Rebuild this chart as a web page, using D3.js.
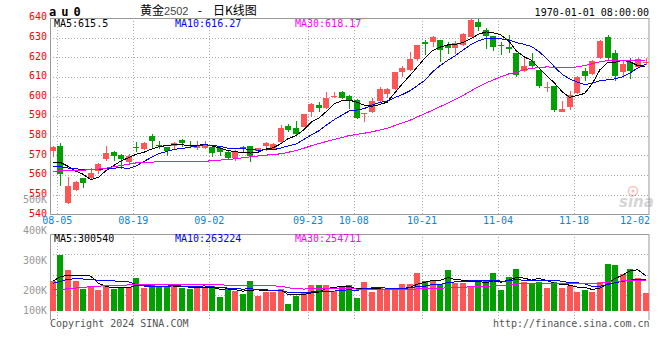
<!DOCTYPE html>
<html>
<head>
<meta charset="utf-8">
<title>黄金2502 - 日K线图</title>
<script src="https://cdn.jsdelivr.net/npm/d3@7"></script>
<style>
  body { margin: 0; background: #fff; }
  svg { display: block; }
  text { font-family: "DejaVu Sans Mono", monospace; font-size: 10px; }
</style>
</head>
<body>
<div id="chart"></div>
<script>
// trading days; the last one only carries the axis label
const dates = ['08-02',
  '08-05','08-06','08-07','08-08','08-09','08-12','08-13','08-14','08-15','08-16',
  '08-19','08-20','08-21','08-22','08-23','08-26','08-27','08-28','08-29','08-30',
  '09-02','09-03','09-04','09-05','09-06','09-09','09-10','09-11','09-12','09-13',
  '09-18','09-19','09-20','09-23','09-24','09-25','09-26','09-27','09-30',
  '10-08','10-09','10-10','10-11','10-14','10-15','10-16','10-17','10-18',
  '10-21','10-22','10-23','10-24','10-25','10-28','10-29','10-30','10-31','11-01',
  '11-04','11-05','11-06','11-07','11-08','11-11','11-12','11-13','11-14','11-15',
  '11-18','11-19','11-20','11-21','11-22','11-25','11-26','11-27','11-28','11-29',
  '12-02'];

const open = [572.2,574.8,545.6,552.4,558.3,558.3,562.2,568.0,571.7,570.4,
  566.6,574.2,573.1,579.9,575.2,574.1,574.8,577.9,575.4,573.6,
  573.6,574.5,573.6,571.9,568.9,574.1,574.8,572.0,574.8,573.4,
  576.8,585.0,583.8,584.6,592.3,595.7,594.0,600.1,602.1,600.3,
  598.2,591.1,592.3,597.7,601.1,603.8,612.7,613.5,619.1,627.9,
  627.6,628.8,626.2,624.7,626.0,630.5,638.1,633.9,630.8,626.0,
  625.4,622.0,613.0,618.1,613.5,604.5,605.4,592.3,594.8,602.0,
  613.0,611.5,619.8,630.2,622.3,612.7,617.8,614.9,617.4];
const high = [574.8,576.2,559.2,557.1,558.6,563.4,566.0,574.8,572.0,570.9,
  570.9,577.0,576.8,580.7,577.2,574.5,577.0,578.4,577.2,577.2,
  577.3,575.0,575.0,572.8,572.8,574.8,574.8,573.9,577.0,576.2,
  585.5,586.0,587.5,591.1,596.9,597.0,602.1,602.1,602.8,600.8,
  598.6,591.6,599.4,605.0,604.1,612.7,615.5,622.8,626.5,628.8,
  630.8,629.0,627.9,628.4,632.5,639.5,639.7,634.8,630.9,627.9,
  631.3,622.4,620.3,622.0,613.6,607.6,605.5,597.7,602.8,610.6,
  614.4,618.4,629.0,631.3,623.7,618.6,619.5,619.5,619.8];
const low = [569.0,554.6,545.2,552.0,553.2,557.8,560.4,567.2,567.0,563.2,
  565.8,571.7,572.6,573.4,573.4,569.7,572.8,574.1,573.6,572.8,
  573.2,569.4,569.9,568.2,567.2,571.6,566.8,571.5,572.2,573.0,
  576.2,582.1,579.8,584.4,589.7,592.3,593.6,599.1,598.7,593.5,
  588.4,587.2,591.8,597.4,599.4,603.3,610.1,613.0,618.1,621.2,
  625.4,617.8,621.5,621.7,625.5,630.2,633.4,624.1,623.4,621.2,
  622.0,610.1,612.7,614.0,604.5,602.5,592.3,592.0,593.1,601.5,
  608.1,611.0,619.3,618.6,608.1,609.3,608.9,614.5,616.1];
const close = [574.5,560.4,554.4,556.6,556.1,561.2,565.5,571.4,569.7,568.3,
  569.7,574.0,576.5,577.3,574.9,572.2,576.5,576.2,575.2,575.2,
  575.6,571.1,571.9,568.5,572.2,573.8,569.7,573.7,576.4,576.0,
  583.8,582.9,580.8,591.1,596.0,594.3,599.1,600.4,599.4,597.7,
  588.9,591.4,597.7,603.8,603.8,612.3,614.7,619.1,626.2,626.6,
  630.2,623.7,624.9,627.3,631.9,639.0,635.6,630.8,625.4,625.5,
  624.0,611.0,615.7,615.7,605.5,605.0,593.1,593.5,600.8,610.1,
  610.5,618.1,628.5,619.5,610.5,616.4,613.2,618.9,617.8];
const volume = [256000,473000,346000,256000,186000,211000,177000,214000,183000,205000,
  200000,279000,197000,220000,203000,205000,220000,197000,182000,203000,
  205000,211000,121000,192000,169000,146000,254000,129000,158000,158000,
  186000,62000,127000,163000,220000,220000,220000,169000,211000,220000,
  112000,248000,163000,192000,175000,175000,231000,226000,324000,256000,
  256000,231000,346000,234000,234000,205000,248000,262000,324000,177000,
  287000,355000,248000,239000,248000,192000,248000,192000,214000,163000,
  177000,163000,248000,397000,389000,315000,355000,281000,155000];

const ma5 = [566.6,566.4,564.5,562.0,560.4,557.7,558.8,562.2,564.8,567.2,
  568.9,570.6,571.6,573.2,574.5,575.0,575.5,575.4,575.0,575.1,
  575.7,574.7,573.8,572.5,571.9,571.5,571.2,571.6,573.2,573.9,
  575.9,578.6,580.0,582.9,586.9,589.0,592.3,596.2,597.8,598.2,
  597.1,595.6,595.0,595.9,597.1,601.8,606.5,610.7,615.2,619.8,
  623.4,625.2,626.3,626.5,627.6,629.4,631.7,632.9,632.5,631.3,
  628.3,623.3,620.3,618.4,614.4,610.6,607.0,602.6,599.6,600.5,
  601.6,606.6,613.6,617.3,617.4,618.6,617.6,615.7,615.4];
const ma10 = [564.6,564.2,563.6,563.2,562.8,562.7,562.9,563.2,563.5,563.8,
  563.3,564.7,566.9,569.0,570.9,572.0,573.1,573.5,574.1,574.8,
  575.4,575.1,574.6,573.7,573.5,573.6,572.9,572.7,572.8,572.9,
  573.7,574.9,575.8,578.0,580.4,582.5,585.4,588.1,590.4,592.6,
  593.1,593.9,595.6,596.9,597.7,599.4,601.0,602.9,605.6,608.4,
  612.6,615.8,618.5,620.9,623.7,626.4,628.4,629.6,629.5,629.4,
  628.8,627.5,626.6,625.5,622.8,619.4,615.2,611.4,609.0,607.4,
  606.1,606.8,608.1,608.5,609.0,610.1,612.1,614.6,616.4];
const ma30 = [562.0,562.1,562.2,562.3,562.5,562.7,563.0,563.5,564.2,564.9,
  565.5,566.2,566.5,566.6,566.7,566.7,566.7,566.8,566.8,566.9,
  567.0,567.3,567.6,567.9,568.3,568.8,569.3,569.7,570.1,570.5,
  570.8,571.6,572.4,573.6,574.9,576.0,577.1,578.1,579.1,580.1,
  580.7,581.3,582.0,582.9,583.8,585.2,586.5,587.9,589.6,591.3,
  593.1,594.9,596.6,598.6,600.6,602.8,605.0,606.9,608.5,610.1,
  611.5,612.4,613.6,614.4,614.7,615.1,614.9,614.6,614.7,615.1,
  615.8,616.7,617.7,618.3,618.5,618.6,618.6,618.6,618.3];

// volume averages, in thousands
const volMa5 = [250,290,300,302,303.4,294.4,235.2,208.8,194.2,198.0,
  195.8,216.2,212.8,220.2,219.8,220.8,209.0,209.0,201.4,201.4,
  201.4,199.6,184.4,186.4,179.6,167.8,176.4,178.0,171.2,169.0,
  177.0,138.6,138.2,139.2,151.6,158.4,190.0,198.4,208.0,208.0,
  186.4,192.0,190.8,187.0,178.0,190.6,187.2,199.8,226.2,242.4,
  258.6,258.6,282.6,264.6,260.2,250.0,253.4,236.6,254.6,243.2,
  259.6,281.0,278.2,261.2,275.4,256.4,235.0,223.8,218.8,201.8,
  198.8,181.8,193.0,229.6,274.8,302.4,340.8,347.4,299.0];
const volMa10 = [234,250,268,272,270,265,260,257,254,250.7,
  245.1,225.7,210.8,207.2,208.9,208.3,212.6,210.9,210.8,210.6,
  211.1,204.3,196.7,193.9,190.5,184.6,188.0,181.2,178.8,174.3,
  172.4,157.5,158.1,155.2,160.3,167.7,164.3,168.3,173.6,179.8,
  172.4,191.0,194.6,197.5,193.0,188.5,189.6,195.3,206.6,210.2,
  224.6,222.9,241.2,245.4,251.3,254.3,256.0,259.6,259.6,251.7,
  254.8,267.2,257.4,257.9,259.3,258.0,258.0,251.0,240.0,238.6,
  227.6,208.4,208.4,224.2,238.3,250.6,261.3,270.2,264.3];
const volMa30 = [177,182,188,194,200,205,210,213,216,218,
  220,221,221,221,221,221,222,223,224,225,
  225,224,221,218,216,214,213,212,212,211.9,
  209.5,195.8,188.5,185.4,186.6,186.9,188.3,186.8,187.7,188.2,
  185.3,184.3,183.1,182.2,181.3,180.3,180.6,181.6,186.3,188.1,
  189.8,190.5,198.0,199.4,201.5,203.5,203.3,207.7,213.3,213.9,
  217.3,227.0,231.1,233.6,234.5,233.6,234.5,235.3,235.4,233.5,
  235.7,232.8,235.7,242.5,249.6,254.3,258.4,260.3,254.6];

const priceTicks = [640, 630, 620, 610, 600, 590, 580, 570, 560, 550, 540];
const volTicks = [500000, 400000, 300000, 200000, 100000];
const volTickLabels = ['500K', '400K', '300K', '200K', '100K'];
const dateTicks = ['08-05', '08-19', '09-02', '09-23', '10-08', '10-21', '11-04', '11-18', '12-02'];
const maLegend = ['MA5:615.5', 'MA10:616.27', 'MA30:618.17'];
const volLegend = ['MA5:300540', 'MA10:263224', 'MA30:254711'];
const maColors = ['#000000', '#0000ff', '#ff00ff'];

const UP = '#ff5555', DOWN = '#00a000';
const GRID = '#aaaaaa', FRAME = '#999999';
const L = 50, R = 649.5;
const mainTop = 18, mainBottom = 214.3;
const volTop = 234, volBase = 311, volBottom = 320;

const svg = d3.select('#chart').append('svg')
  .attr('width', 660)
  .attr('height', 360);

const x = d3.scaleBand()
  .domain(dates)
  .range([49.7, 49.7 + 7.6 * (dates.length - 0.21)])
  .paddingInner(0.21)
  .paddingOuter(0);
const bw = x.bandwidth();
const y = d3.scaleLinear().domain([540, 640]).range([mainBottom, mainTop]);
const vy = d3.scaleLinear().domain([0, 650000]).range([volBase, volTop]);
// the K labels on the left are not spaced evenly in the original
const volLabelY = d3.scaleLinear().domain([100000, 200000, 500000]).range([314.3, 294, 203.3]);

const bars = close.map((c, i) => ({
  d: dates[i], o: open[i], h: high[i], l: low[i], c: c, v: volume[i]
}));
const col = b => b.c >= b.o ? UP : DOWN;

svg.append('clipPath').attr('id', 'clipMain')
  .append('rect').attr('x', L).attr('y', mainTop).attr('width', R - L).attr('height', mainBottom - mainTop);
svg.append('clipPath').attr('id', 'clipVol')
  .append('rect').attr('x', L).attr('y', volTop).attr('width', R - L).attr('height', volBottom - volTop);

// grid
const tickIn = dateTicks.filter(t => x(t) !== undefined && x(t) < R - 1);
svg.append('g').selectAll('line')
  .data(priceTicks.slice(1, -1))
  .enter().append('line')
  .attr('x1', L).attr('x2', R)
  .attr('y1', d => Math.round(y(d)) + 0.5).attr('y2', d => Math.round(y(d)) + 0.5)
  .attr('stroke', GRID).attr('stroke-dasharray', '1,2');
svg.append('g').selectAll('line')
  .data(tickIn)
  .enter().append('line')
  .attr('x1', d => Math.round(x(d)) + 0.5).attr('x2', d => Math.round(x(d)) + 0.5)
  .attr('y1', mainTop).attr('y2', mainBottom)
  .attr('stroke', GRID).attr('stroke-dasharray', '1,2');
svg.append('g').selectAll('line')
  .data(tickIn)
  .enter().append('line')
  .attr('x1', d => Math.round(x(d)) + 0.5).attr('x2', d => Math.round(x(d)) + 0.5)
  .attr('y1', volTop).attr('y2', volBottom)
  .attr('stroke', GRID).attr('stroke-dasharray', '1,2');
svg.append('g').selectAll('line')
  .data(d3.range(1, 4))
  .enter().append('line')
  .attr('x1', L).attr('x2', R)
  .attr('y1', k => Math.round(volTop + k * (volBottom - 5 - volTop) / 4) + 0.5)
  .attr('y2', k => Math.round(volTop + k * (volBottom - 5 - volTop) / 4) + 0.5)
  .attr('stroke', GRID).attr('stroke-dasharray', '1,2');

// frames
svg.append('rect')
  .attr('x', L + 0.5).attr('y', mainTop + 0.5)
  .attr('width', R - L - 1).attr('height', Math.round(mainBottom - mainTop))
  .attr('fill', 'none').attr('stroke', FRAME);
svg.append('path')
  .attr('d', `M${L + 0.5},${volBottom}V${volTop + 0.5}H${R - 0.5}V${volBottom}`)
  .attr('fill', 'none').attr('stroke', FRAME);

// candles
const gMain = svg.append('g').attr('clip-path', 'url(#clipMain)');
const cg = gMain.selectAll('g.k').data(bars).enter().append('g').attr('class', 'k');
cg.append('rect')
  .attr('x', b => Math.round(x(b.d)) + 3)
  .attr('width', 1)
  .attr('y', b => Math.round(y(b.h)))
  .attr('height', b => Math.max(1, Math.round(y(b.l)) - Math.round(y(b.h))))
  .attr('fill', col);
cg.append('rect')
  .attr('x', b => Math.round(x(b.d)))
  .attr('width', 6)
  .attr('y', b => Math.round(y(Math.max(b.o, b.c))))
  .attr('height', b => Math.max(1, Math.round(y(Math.min(b.o, b.c))) - Math.round(y(Math.max(b.o, b.c)))))
  .attr('fill', col);

const lineMain = d3.line()
  .x((d, i) => x(dates[i]) + bw / 2)
  .y(d => y(d));
[ma5, ma10, ma30].forEach((s, k) => {
  gMain.append('path').datum(s)
    .attr('d', lineMain)
    .attr('fill', 'none')
    .attr('stroke', maColors[k])
    .attr('stroke-width', 1)
    .attr('shape-rendering', 'crispEdges');
});

// volume
const gVol = svg.append('g').attr('clip-path', 'url(#clipVol)');
gVol.selectAll('rect').data(bars).enter().append('rect')
  .attr('x', b => Math.round(x(b.d)))
  .attr('width', 6)
  .attr('y', b => Math.round(vy(b.v)))
  .attr('height', b => volBase - Math.round(vy(b.v)))
  .attr('fill', col);
const lineVol = d3.line()
  .x((d, i) => x(dates[i]) + bw / 2)
  .y(d => vy(d * 1000));
[volMa5, volMa10, volMa30].forEach((s, k) => {
  gVol.append('path').datum(s)
    .attr('d', lineVol)
    .attr('fill', 'none')
    .attr('stroke', maColors[k])
    .attr('stroke-width', 1)
    .attr('shape-rendering', 'crispEdges');
});

// watermark
const wm = svg.append('g').attr('opacity', 0.35);
wm.append('circle').attr('cx', 633).attr('cy', 191).attr('r', 4.5)
  .attr('fill', 'none').attr('stroke', '#e05050').attr('stroke-width', 1.5);
wm.append('circle').attr('cx', 633).attr('cy', 191).attr('r', 1.5).attr('fill', '#e05050');
wm.append('text').attr('x', 619).attr('y', 207)
  .style('font-family', 'DejaVu Sans').style('font-size', '15px')
  .style('font-style', 'italic').style('font-weight', 'bold')
  .attr('fill', '#888').text('sina');

// price labels
svg.append('g').selectAll('text').data(priceTicks).enter().append('text')
  .attr('x', 47).attr('y', d => y(d) + 2.3)
  .attr('text-anchor', 'end').attr('fill', '#ff0000')
  .text(d => d);
// volume labels
svg.append('g').selectAll('text').data(volTicks).enter().append('text')
  .attr('x', 47).attr('y', d => volLabelY(d))
  .attr('text-anchor', 'end').attr('fill', '#999999')
  .text((d, i) => volTickLabels[i]);
// date labels
svg.append('g').selectAll('text').data(dateTicks).enter().append('text')
  .attr('x', d => Math.min(x(d), 650 - 15))
  .attr('y', 224.3)
  .attr('text-anchor', 'middle').attr('fill', '#0a84d6')
  .text(d => d);

// legends
const legX = [54, 175, 295];
svg.append('g').selectAll('text').data(maLegend).enter().append('text')
  .attr('x', (d, i) => legX[i]).attr('y', 27.3)
  .attr('fill', (d, i) => maColors[i]).text(d => d);
svg.append('g').selectAll('text').data(volLegend).enter().append('text')
  .attr('x', (d, i) => legX[i]).attr('y', 241.7)
  .attr('fill', (d, i) => maColors[i]).text(d => d);

// header
svg.append('text').attr('x', 49).attr('y', 15.5)
  .style('font-size', '12px').style('font-weight', 'bold')
  .style('letter-spacing', '5px').text('au0');
const title = svg.append('text').attr('x', 140).attr('y', 14.5)
  .style('font-family', '"Noto Sans CJK SC", sans-serif').style('font-size', '12px')
  .style('white-space', 'pre');
title.append('tspan').text('黄金');
title.append('tspan').style('font-family', '"Liberation Sans", sans-serif')
  .style('font-size', '11px').attr('fill', '#444').text('2502');
title.append('tspan').attr('x', 195).text(' - ');
title.append('tspan').attr('x', 213).text('日K线图');
svg.append('text').attr('x', 649).attr('y', 15.7)
  .attr('text-anchor', 'end').text('1970-01-01 08:00:00');

// footer
svg.append('text').attr('x', 50).attr('y', 327.3).attr('fill', '#555').text('Copyright 2024 SINA.COM');
svg.append('text').attr('x', 649.5).attr('y', 327.3).attr('text-anchor', 'end')
  .attr('fill', '#555').text('http://finance.sina.com.cn');
</script>
</body>
</html>
